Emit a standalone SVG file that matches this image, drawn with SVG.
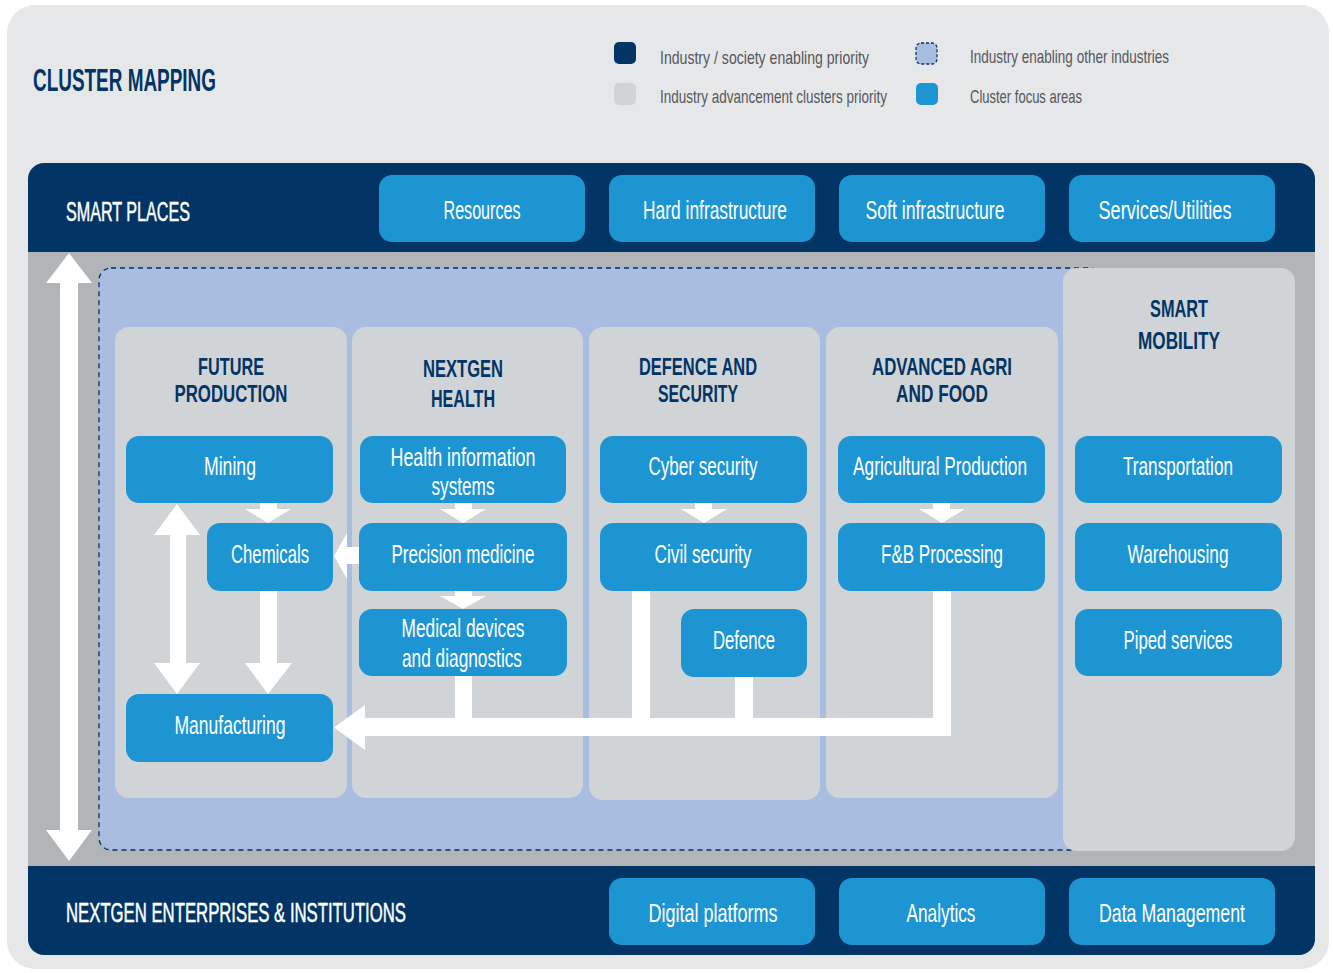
<svg xmlns="http://www.w3.org/2000/svg" width="1333" height="973" viewBox="0 0 1333 973">
<style>
.node{fill:#1e95d3}
.col{fill:#d1d4d7}
.nt{font-family:"Liberation Sans Narrow","Liberation Sans",Arial,sans-serif;font-size:25px;fill:#ffffff;text-anchor:middle}
.ct{font-family:"Liberation Sans Narrow","Liberation Sans",Arial,sans-serif;font-size:24px;font-weight:bold;fill:#023565;text-anchor:middle}
.bt{font-family:"Liberation Sans Narrow","Liberation Sans",Arial,sans-serif;font-size:27px;fill:#ffffff;stroke:#ffffff;stroke-width:0.5}
.lt{font-family:"Liberation Sans Narrow","Liberation Sans",Arial,sans-serif;font-size:19px;fill:#55585b}
.arr{fill:#ffffff}
</style>
<rect width="1333" height="973" fill="#ffffff"/>
<rect x="7" y="5" width="1322" height="964" rx="28" fill="#e6e7e9"/>
<g id="title">
<text x="33" y="91" font-family="Liberation Sans Narrow,Liberation Sans,Arial,sans-serif" font-size="31" font-weight="bold" fill="#023565" textLength="183" lengthAdjust="spacingAndGlyphs">CLUSTER MAPPING</text>
</g>
<g id="legend">
<rect x="614" y="42" width="22" height="22" rx="5" fill="#023565"/>
<text class="lt" x="660" y="64" textLength="209" lengthAdjust="spacingAndGlyphs">Industry / society enabling priority</text>
<rect x="614" y="83" width="22" height="22" rx="5" fill="#d1d4d7"/>
<text class="lt" x="660" y="103" textLength="227" lengthAdjust="spacingAndGlyphs">Industry advancement clusters priority</text>
<rect x="916" y="43" width="21" height="21" rx="5" fill="#a9bde0" stroke="#023565" stroke-width="1.3" stroke-dasharray="3,2"/>
<text class="lt" x="970" y="63" textLength="199" lengthAdjust="spacingAndGlyphs">Industry enabling other industries</text>
<rect x="916" y="83" width="22" height="22" rx="5" fill="#1e95d3"/>
<text class="lt" x="970" y="103" textLength="112" lengthAdjust="spacingAndGlyphs">Cluster focus areas</text>
</g>
<g id="frame">
<rect x="28" y="240" width="1287" height="640" fill="#b1b5b8"/>
<path d="M28,252 V179 A16,16 0 0 1 44,163 H1299 A16,16 0 0 1 1315,179 V252 Z" fill="#023565"/>
<path d="M28,866 V939 A16,16 0 0 0 44,955 H1299 A16,16 0 0 0 1315,939 V866 Z" fill="#023565"/>
<rect x="99" y="268" width="1003" height="582" rx="12" fill="#a9bde0" stroke="#023565" stroke-width="1.3" stroke-dasharray="5,4"/>
</g>
<g id="smart-places">
<text class="bt" x="66" y="221" textLength="124" lengthAdjust="spacingAndGlyphs">SMART PLACES</text>
<rect class="node" x="379" y="175" width="206" height="67" rx="13"/>
<text class="nt" x="482" y="219" textLength="77" lengthAdjust="spacingAndGlyphs">Resources</text>
<rect class="node" x="609" y="175" width="206" height="67" rx="13"/>
<text class="nt" x="715" y="219" textLength="144" lengthAdjust="spacingAndGlyphs">Hard infrastructure</text>
<rect class="node" x="839" y="175" width="206" height="67" rx="13"/>
<text class="nt" x="935" y="219" textLength="139" lengthAdjust="spacingAndGlyphs">Soft infrastructure</text>
<rect class="node" x="1069" y="175" width="206" height="67" rx="13"/>
<text class="nt" x="1165" y="219" textLength="133" lengthAdjust="spacingAndGlyphs">Services/Utilities</text>
</g>
<g id="nextgen-enterprises">
<text class="bt" x="66" y="922" textLength="340" lengthAdjust="spacingAndGlyphs">NEXTGEN ENTERPRISES &amp; INSTITUTIONS</text>
<rect class="node" x="609" y="878" width="206" height="67" rx="13"/>
<text class="nt" x="713" y="922" textLength="129" lengthAdjust="spacingAndGlyphs">Digital platforms</text>
<rect class="node" x="839" y="878" width="206" height="67" rx="13"/>
<text class="nt" x="941" y="922" textLength="69" lengthAdjust="spacingAndGlyphs">Analytics</text>
<rect class="node" x="1069" y="878" width="206" height="67" rx="13"/>
<text class="nt" x="1172" y="922" textLength="146" lengthAdjust="spacingAndGlyphs">Data Management</text>
</g>
<g id="future-production">
<rect class="col" x="115" y="327" width="232" height="471" rx="14"/>
<text class="ct" x="231" y="375" textLength="66" lengthAdjust="spacingAndGlyphs">FUTURE</text>
<text class="ct" x="231" y="402" textLength="113" lengthAdjust="spacingAndGlyphs">PRODUCTION</text>
</g>
<g id="nextgen-health">
<rect class="col" x="352" y="327" width="231" height="471" rx="14"/>
<text class="ct" x="463" y="377" textLength="80" lengthAdjust="spacingAndGlyphs">NEXTGEN</text>
<text class="ct" x="463" y="407" textLength="64" lengthAdjust="spacingAndGlyphs">HEALTH</text>
</g>
<g id="defence-security">
<rect class="col" x="589" y="327" width="231" height="473" rx="14"/>
<text class="ct" x="698" y="375" textLength="118" lengthAdjust="spacingAndGlyphs">DEFENCE AND</text>
<text class="ct" x="698" y="402" textLength="80" lengthAdjust="spacingAndGlyphs">SECURITY</text>
</g>
<g id="agri-food">
<rect class="col" x="826" y="327" width="232" height="471" rx="14"/>
<text class="ct" x="942" y="375" textLength="140" lengthAdjust="spacingAndGlyphs">ADVANCED AGRI</text>
<text class="ct" x="942" y="402" textLength="92" lengthAdjust="spacingAndGlyphs">AND FOOD</text>
</g>
<g id="smart-mobility">
<rect class="col" x="1063" y="268" width="232" height="583" rx="14"/>
<text class="ct" x="1179" y="317" textLength="58" lengthAdjust="spacingAndGlyphs">SMART</text>
<text class="ct" x="1179" y="349" textLength="82" lengthAdjust="spacingAndGlyphs">MOBILITY</text>
</g>
<g id="connectors">
<polygon class="arr" points="69,253 92,283 78,283 78,830 92,830 69,861 46,830 60,830 60,283 46,283"/>
<polygon class="arr" points="177,504 200,535 186,535 186,663 200,663 177,694 154,663 170,663 170,535 154,535"/>
<polygon class="arr" points="260,503 277,503 277,509 291,509 268,523 245,509 260,509"/>
<polygon class="arr" points="260,591 277,591 277,663 292,663 268,694 245,663 260,663"/>
<polygon class="arr" points="359,547 359,564 347,564 347,579 334,556 347,533 347,547"/>
<polygon class="arr" points="455,503 472,503 472,509 486,509 463,523 440,509 455,509"/>
<polygon class="arr" points="455,591 472,591 472,596 486,596 463,609 440,596 455,596"/>
<polygon class="arr" points="695,503 712,503 712,509 727,509 704,523 681,509 695,509"/>
<polygon class="arr" points="933,503 950,503 950,509 965,509 942,523 919,509 933,509"/>
<rect class="arr" x="455" y="676" width="17" height="50"/>
<rect class="arr" x="632" y="591" width="18" height="145"/>
<rect class="arr" x="735" y="677" width="18" height="49"/>
<rect class="arr" x="933" y="591" width="18" height="145"/>
<polygon class="arr" points="951,718 951,736 365,736 365,750 334,727.5 365,705 365,718"/>
</g>
<g id="n-mining"><rect class="node" x="126" y="436" width="207" height="67" rx="13"/><text class="nt" x="230" y="475" textLength="52" lengthAdjust="spacingAndGlyphs">Mining</text></g>
<g id="n-chemicals"><rect class="node" x="207" y="523" width="126" height="68" rx="13"/><text class="nt" x="270" y="563" textLength="78" lengthAdjust="spacingAndGlyphs">Chemicals</text></g>
<g id="n-manufacturing"><rect class="node" x="126" y="694" width="207" height="68" rx="13"/><text class="nt" x="230" y="734" textLength="111" lengthAdjust="spacingAndGlyphs">Manufacturing</text></g>
<g id="n-health-info"><rect class="node" x="360" y="436" width="206" height="67" rx="13"/><text class="nt" x="463" y="466" textLength="145" lengthAdjust="spacingAndGlyphs">Health information</text><text class="nt" x="463" y="495" textLength="63" lengthAdjust="spacingAndGlyphs">systems</text></g>
<g id="n-precision"><rect class="node" x="359" y="523" width="208" height="68" rx="13"/><text class="nt" x="463" y="563" textLength="143" lengthAdjust="spacingAndGlyphs">Precision medicine</text></g>
<g id="n-medical"><rect class="node" x="359" y="609" width="208" height="67" rx="13"/><text class="nt" x="463" y="637" textLength="123" lengthAdjust="spacingAndGlyphs">Medical devices</text><text class="nt" x="462" y="667" textLength="120" lengthAdjust="spacingAndGlyphs">and diagnostics</text></g>
<g id="n-cyber"><rect class="node" x="600" y="436" width="207" height="67" rx="13"/><text class="nt" x="703" y="475" textLength="109" lengthAdjust="spacingAndGlyphs">Cyber security</text></g>
<g id="n-civil"><rect class="node" x="600" y="523" width="207" height="68" rx="13"/><text class="nt" x="703" y="563" textLength="97" lengthAdjust="spacingAndGlyphs">Civil security</text></g>
<g id="n-defence"><rect class="node" x="681" y="609" width="126" height="68" rx="13"/><text class="nt" x="744" y="649" textLength="62" lengthAdjust="spacingAndGlyphs">Defence</text></g>
<g id="n-agri"><rect class="node" x="838" y="436" width="207" height="67" rx="13"/><text class="nt" x="940" y="475" textLength="174" lengthAdjust="spacingAndGlyphs">Agricultural Production</text></g>
<g id="n-fb"><rect class="node" x="838" y="523" width="207" height="68" rx="13"/><text class="nt" x="942" y="563" textLength="122" lengthAdjust="spacingAndGlyphs">F&amp;B Processing</text></g>
<g id="n-transport"><rect class="node" x="1075" y="436" width="207" height="67" rx="13"/><text class="nt" x="1178" y="475" textLength="110" lengthAdjust="spacingAndGlyphs">Transportation</text></g>
<g id="n-warehousing"><rect class="node" x="1075" y="523" width="207" height="68" rx="13"/><text class="nt" x="1178" y="563" textLength="101" lengthAdjust="spacingAndGlyphs">Warehousing</text></g>
<g id="n-piped"><rect class="node" x="1075" y="609" width="207" height="67" rx="13"/><text class="nt" x="1178" y="649" textLength="109" lengthAdjust="spacingAndGlyphs">Piped services</text></g>
</svg>
